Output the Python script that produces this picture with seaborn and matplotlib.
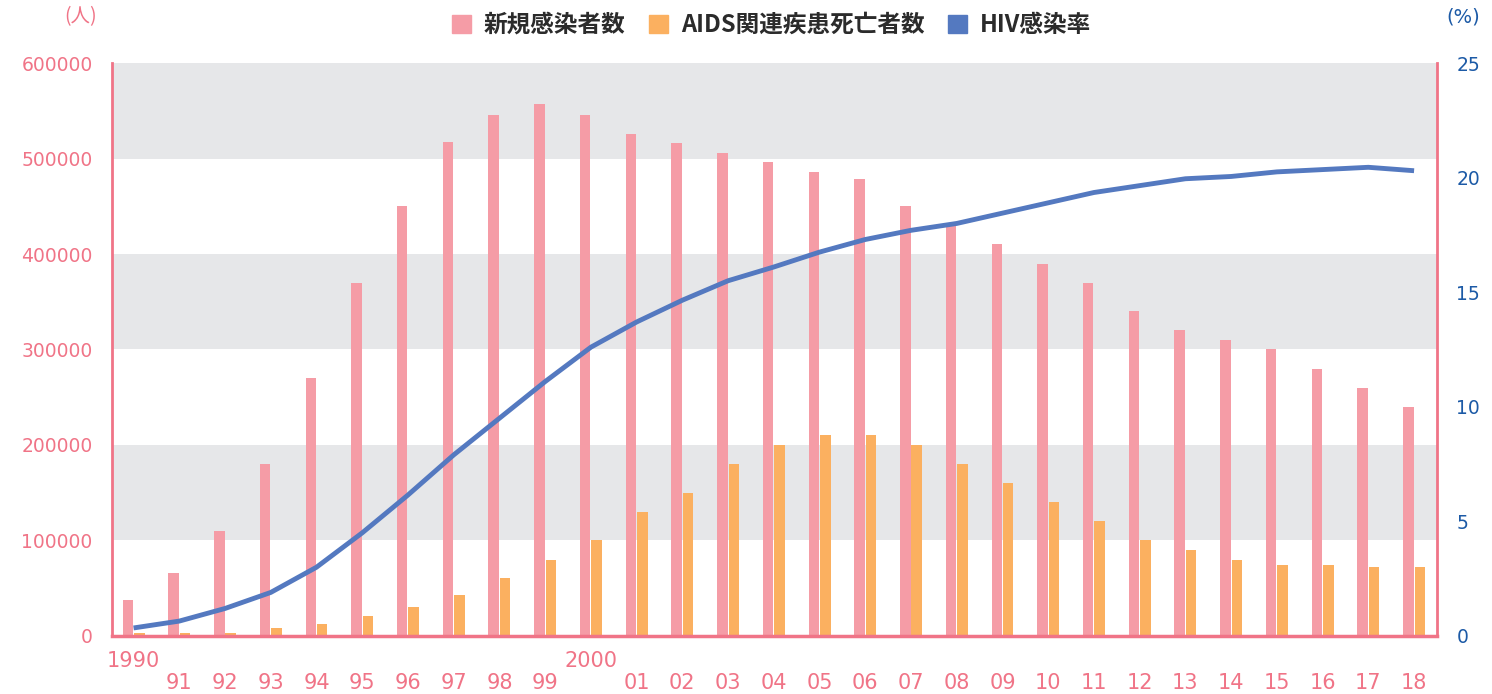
import matplotlib
matplotlib.use("Agg")
import matplotlib.pyplot as plt
from matplotlib.patches import Patch
import numpy as np
import pandas as pd
import seaborn as sns

# --- data ---
years = ["1990", "91", "92", "93", "94", "95", "96", "97", "98", "99",
         "2000", "01", "02", "03", "04", "05", "06", "07", "08", "09",
         "10", "11", "12", "13", "14", "15", "16", "17", "18"]
new_infections = [38000, 66000, 110000, 180000, 270000, 370000, 450000, 517000, 546000, 557000,
                  546000, 526000, 516000, 506000, 496000, 486000, 479000, 450000, 430000, 410000,
                  390000, 370000, 340000, 320000, 310000, 300000, 280000, 260000, 240000]
aids_deaths = [3000, 3000, 3000, 8000, 13000, 21000, 30000, 43000, 61000, 80000,
               100000, 130000, 150000, 180000, 200000, 210000, 210000, 200000, 180000, 160000,
               140000, 120000, 100000, 90000, 80000, 74000, 74000, 72000, 72000]
hiv_rate = [0.35, 0.65, 1.2, 1.9, 3.0, 4.5, 6.15, 7.9, 9.5, 11.1,
            12.6, 13.7, 14.65, 15.5, 16.1, 16.75, 17.3, 17.7, 18.0, 18.45,
            18.9, 19.35, 19.65, 19.95, 20.05, 20.25, 20.35, 20.45, 20.3]
series_names = ["新規感染者数", "AIDS関連疾患死亡者数", "HIV感染率"]
left_ticks = [0, 100000, 200000, 300000, 400000, 500000, 600000]
right_ticks = [0, 5, 10, 15, 20, 25]

PINK = "#f59ca6"
ORANGE = "#fbb060"
BLUE = "#5479c0"
AXIS_PINK = "#f07487"
TICK_BLUE = "#1c5aa6"
BAND = "#e6e7e9"
NUM_FONT = ["DejaVu Sans"]

sns.set_style("white")
plt.rcParams["font.family"] = ["Noto Sans CJK JP", "DejaVu Sans"]

df = pd.DataFrame({
    "year": years * 2,
    "value": new_infections + aids_deaths,
    "series": [series_names[0]] * len(years) + [series_names[1]] * len(years),
})

fig = plt.figure(figsize=(14.92, 6.94), dpi=100)
ax = fig.add_axes([0.0751, 0.0836, 0.888, 0.8256])

# alternating grey bands
for lo, hi in zip(left_ticks[1::2], left_ticks[2::2]):
    ax.axhspan(lo, hi, color=BAND, lw=0, zorder=0)

sns.barplot(data=df, x="year", y="value", hue="series", order=years,
            palette=[PINK, ORANGE], width=0.5, gap=0.08, saturation=1,
            linewidth=0, legend=False, ax=ax, zorder=2)

ax.set_xlim(-0.47, len(years) - 0.5)
ax.set_ylim(left_ticks[0], left_ticks[-1])
ax.set_yticks(left_ticks)
ax.set_yticklabels([str(t) for t in left_ticks], family=NUM_FONT)
ax.set_xlabel("")
ax.set_ylabel("")
ax.tick_params(axis="y", length=0, pad=14, labelsize=13.5, labelcolor=AXIS_PINK)
ax.tick_params(axis="x", length=0, pad=11, labelsize=15, labelcolor=AXIS_PINK)
ax.set_xticks(range(len(years)))
ax.set_xticklabels([y if len(y) == 4 else "\n" + y for y in years],
                   linespacing=1.12, family=NUM_FONT)

for side in ["left", "right", "bottom"]:
    ax.spines[side].set_color(AXIS_PINK)
ax.spines["left"].set_linewidth(2)
ax.spines["right"].set_linewidth(2)
ax.spines["bottom"].set_linewidth(2.5)
ax.spines["top"].set_visible(False)

ax2 = ax.twinx()
sns.lineplot(x=np.arange(len(years)), y=hiv_rate, color=BLUE, lw=3.5, ax=ax2,
             solid_capstyle="butt", zorder=3)
ax2.set_ylim(right_ticks[0], right_ticks[-1])
ax2.set_yticks(right_ticks)
ax2.set_yticklabels([str(t) for t in right_ticks], family=NUM_FONT)
ax2.tick_params(axis="y", length=0, pad=14, labelsize=13.5, labelcolor=TICK_BLUE)
ax2.set_ylabel("")
for side in ["left", "right", "bottom", "top"]:
    ax2.spines[side].set_visible(False)

fig.text(0.065, 0.976, "(人)", color=AXIS_PINK, fontsize=14, ha="right", va="center")
fig.text(0.992, 0.976, "(%)", color=TICK_BLUE, fontsize=14, ha="right", va="center",
         family=NUM_FONT)

handles = [Patch(color=PINK), Patch(color=ORANGE), Patch(color=BLUE)]
fig.legend(handles, series_names, loc="center", bbox_to_anchor=(0.517, 0.964), ncol=3,
           frameon=False, prop={"size": 17, "weight": "bold"},
           handlelength=0.8, handleheight=0.8,
           handletextpad=0.55, columnspacing=1.0, labelcolor="#2b2b2b")

fig.savefig("out.png", dpi=100)
